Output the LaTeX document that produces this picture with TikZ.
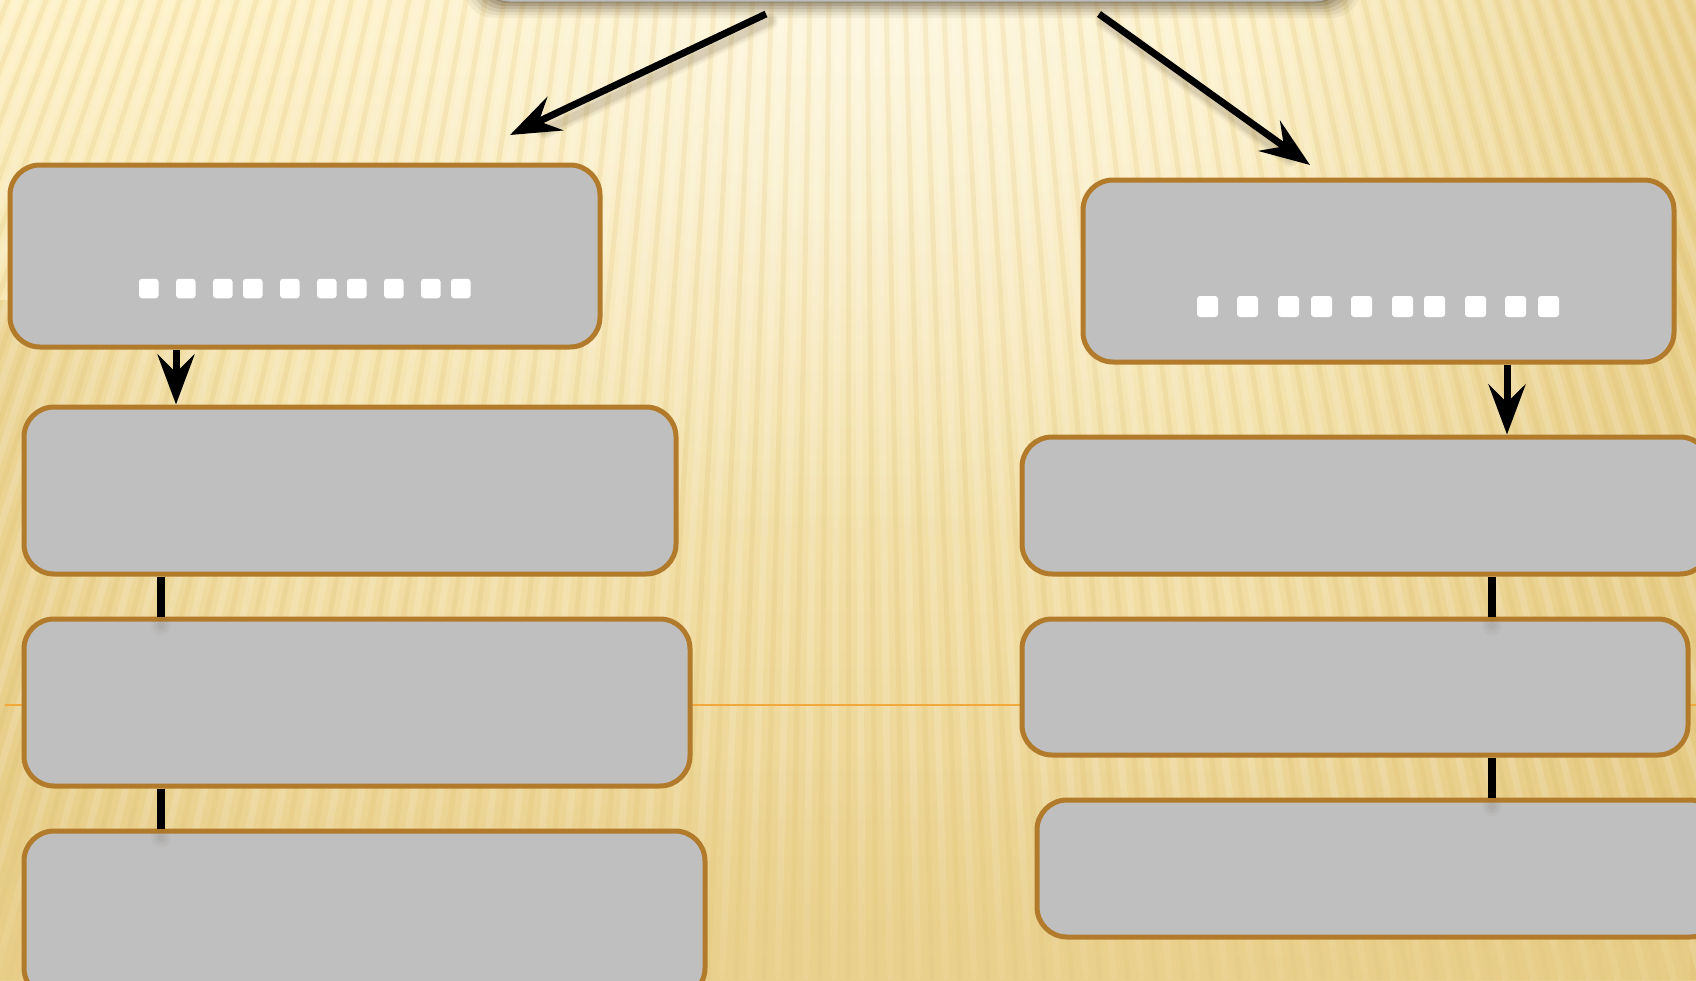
\documentclass[tikz,border=0pt]{standalone}
\usetikzlibrary{arrows.meta,calc,fadings}
\definecolor{bgTop}{HTML}{FDF1C6}
\definecolor{bgBot}{HTML}{E9D08C}
\definecolor{bgDark}{HTML}{E2C57A}
\definecolor{stripe}{HTML}{D8B55C}
\definecolor{boxfill}{HTML}{BFBFBF}
\definecolor{boxline}{HTML}{B27B2B}
\definecolor{orangeline}{HTML}{F2A93B}
\definecolor{topfill}{HTML}{C4C4C4}
\definecolor{shadowc}{HTML}{4E3E22}
\tikzfading[name=glow, inner color=transparent!0, outer color=transparent!100]
\begin{document}
\begin{tikzpicture}[x=1pt,y=-1pt,
  box/.style={draw=boxline, fill=boxfill, line width=5pt, rounded corners=30pt, inner sep=0pt, rectangle},
  sq/.style={fill=white, rounded corners=3pt, inner sep=0pt, minimum width=#1, minimum height=#1},
  diagarrow/.style={line width=7pt, black, -{Stealth[length=50pt,width=37pt,inset=18pt]}},
  vertarrow/.style={line width=7pt, black, -{Stealth[length=50pt,width=37pt,inset=18pt]}},
  linkbar/.style={line width=8pt, black},
]
\useasboundingbox (0,0) rectangle (1696,980);
% background
\begin{scope}
\clip (0,0) rectangle (1696,980);
\shade[top color=bgTop, bottom color=bgBot] (0,0) rectangle (1696,980);
\fill[bgDark, opacity=0.7, path fading=west] (1250,0) rectangle (1696,980);
\fill[bgDark, opacity=0.5, path fading=east] (0,300) rectangle (250,980);
\fill[white, opacity=0.45, path fading=glow] (250,-500) rectangle (1450,550);
\foreach \i in {-80,...,80} {
  \draw[stripe, opacity=0.16, line width=5pt] (848,-2100) -- (848+\i*28, 980);
  \draw[white, opacity=0.15, line width=7pt] (848,-2100) -- (848+\i*28+14, 980);
}
\fill[bgBot, opacity=0.6, path fading=north] (0,770) rectangle (1696,980);
\end{scope}
\draw[orangeline, line width=2pt] (5,705) -- (1696,705);
% top box with shadow
\foreach \k/\o in {16/0.06,13/0.08,10/0.1,7/0.13,4/0.17,1/0.22} {
  \fill[shadowc, opacity=\o, rounded corners=30pt] (480-\k,-100) rectangle (1345+\k,2+\k);
}
\node[draw=gray!60, line width=1pt, fill=topfill, rounded corners=30pt, minimum width=865pt, minimum height=102pt, inner sep=0pt] (top) at (912.5,-50) {};
% boxes
\node[box, minimum width=590pt, minimum height=182pt] (L1) at (305,256) {};
\node[box, minimum width=652pt, minimum height=167pt] (L2) at (350,490.5) {};
\node[box, minimum width=666pt, minimum height=167pt] (L3) at (357,702.5) {};
\node[box, minimum width=681pt, minimum height=167pt] (L4) at (364.5,914.5) {};
\node[box, minimum width=591pt, minimum height=182pt] (R1) at (1378.5,271) {};
\node[box, minimum width=688pt, minimum height=137pt] (R2) at (1366,505.5) {};
\node[box, minimum width=666pt, minimum height=136pt] (R3) at (1355,687) {};
\node[box, minimum width=683pt, minimum height=137pt] (R4) at (1378.5,868.5) {};
% squares
\foreach \x [count=\n] in {139,176,213,243,280,317,347,384,421,451} {
  \node[sq=19.5pt] (ls\n) at (\x+9.75,288.5) {};
}
\foreach \x [count=\n] in {1197,1237,1278,1311,1351,1392,1424,1465,1505,1538} {
  \node[sq=21pt] (rs\n) at (\x+10.5,306.5) {};
}
% diagonal arrows
\coordinate (la1) at (766,14);
\coordinate (la2) at (510,135);
\coordinate (ra1) at (1099,14);
\coordinate (ra2) at (1310,165);
\foreach \w/\o in {16/0.05,12/0.07,8/0.09} {
  \draw[shadowc, opacity=\o, line width=\w pt, line cap=round] ($(la1)+(4,7)$) -- ($(la2)+(34,-4)$);
  \draw[shadowc, opacity=\o, line width=\w pt, line cap=round] ($(ra1)+(4,7)$) -- ($(ra2)+(-20,-6)$);
}
\draw[diagarrow] (la1) -- (la2);
\draw[diagarrow] (ra1) -- (ra2);
% vertical arrows and links
\coordinate (xl) at (176,0);
\coordinate (xr) at (1507,0);
\coordinate (xlb) at (161,0);
\coordinate (xrb) at (1492,0);
\draw[vertarrow] (L1.south -| xl) -- (L2.north -| xl);
\draw[vertarrow] (R1.south -| xr) -- (R2.north -| xr);
\foreach \a/\b/\c in {L2/L3/xlb, L3/L4/xlb, R2/R3/xrb, R3/R4/xrb} {
  \foreach \r/\o in {10/0.03,7/0.04,4/0.05} {
    \fill[shadowc, opacity=\o] ($(\b.north -| \c)+(0,9)$) circle (\r pt);
  }
  \draw[linkbar] (\a.south -| \c) -- (\b.north -| \c);
}
\end{tikzpicture}
\end{document}
